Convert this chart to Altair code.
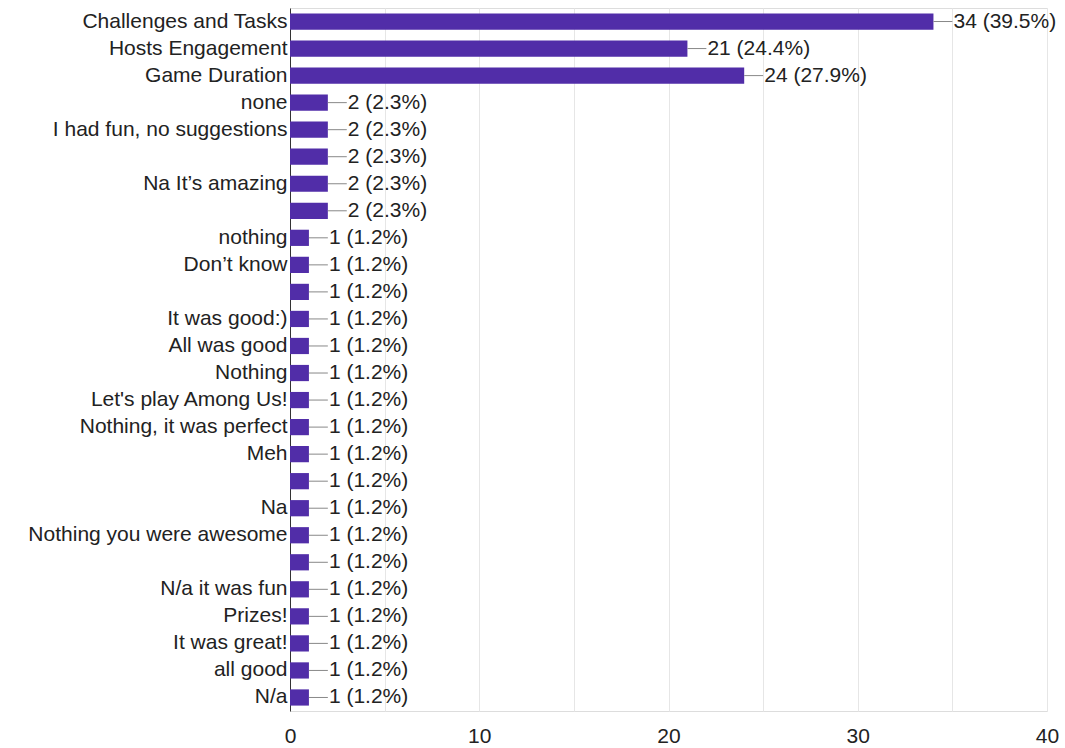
import json
import altair as alt
import pandas as pd

labels = [
    "Challenges and Tasks", "Hosts Engagement", "Game Duration", "none",
    "I had fun, no suggestions", "", "Na It\u2019s amazing", "", "nothing",
    "Don\u2019t know", "", "It was good:)", "All was good", "Nothing",
    "Let's play Among Us!", "Nothing, it was perfect", "Meh", "", "Na",
    "Nothing you were awesome", "", "N/a it was fun", "Prizes!",
    "It was great!", "all good", "N/a",
]
counts = [34, 21, 24, 2, 2, 2, 2, 2, 1, 1, 1, 1, 1, 1, 1, 1, 1, 1, 1, 1, 1, 1, 1, 1, 1, 1]
percents = [39.5, 24.4, 27.9, 2.3, 2.3, 2.3, 2.3, 2.3] + [1.2] * 18
x_ticks = [0, 5, 10, 15, 20, 25, 30, 35, 40]

df = pd.DataFrame({
    "idx": list(range(len(labels))),
    "label": labels,
    "count": counts,
    "text": [f"{c} ({p:.1f}%)" for c, p in zip(counts, percents)],
})
df["end"] = df["count"] + 1

FONT = "Liberation Sans"
FS = 21
label_expr = json.dumps(labels) + "[datum.value]"

y_enc = alt.Y(
    "idx:O",
    title=None,
    scale=alt.Scale(paddingInner=0.4, paddingOuter=0.2),
    axis=alt.Axis(
        labelExpr=label_expr, ticks=False, domain=True, domainColor="#333333",
        labelFontSize=FS, labelFont=FONT, labelColor="#222222", labelPadding=3,
        labelLimit=300, grid=False,
    ),
)
x_scale = alt.Scale(domain=[0, 40], nice=False)

bars = alt.Chart(df).mark_bar(color="#512da8").encode(
    x=alt.X(
        "count:Q", scale=x_scale, title=None,
        axis=alt.Axis(
            values=x_ticks, labelExpr="datum.value % 10 == 0 ? datum.label : ''",
            ticks=False, domain=False, grid=True, gridColor="#e6e6e6",
            labelFlush=False,
            labelFontSize=FS, labelFont=FONT, labelColor="#222222", labelPadding=14,
        ),
    ),
    y=y_enc,
)

rules = alt.Chart(df).mark_rule(color="#888888", strokeWidth=1).encode(
    x=alt.X("count:Q", scale=x_scale), x2="end:Q", y=y_enc,
)

texts = alt.Chart(df).mark_text(
    align="left", baseline="middle", dx=20, fontSize=FS, font=FONT, color="#222222"
).encode(
    x=alt.X("count:Q", scale=x_scale), y=y_enc, text="text:N",
)

chart = (bars + rules + texts).properties(
    width=757, height=703,
    autosize=alt.AutoSizeParams(type="none"),
    padding={"left": 290, "top": 8, "right": 18, "bottom": 37},
).configure_view(stroke="#e6e6e6").configure(background="white")

chart.save("out.html", embed_options={"renderer": "svg", "actions": False})
